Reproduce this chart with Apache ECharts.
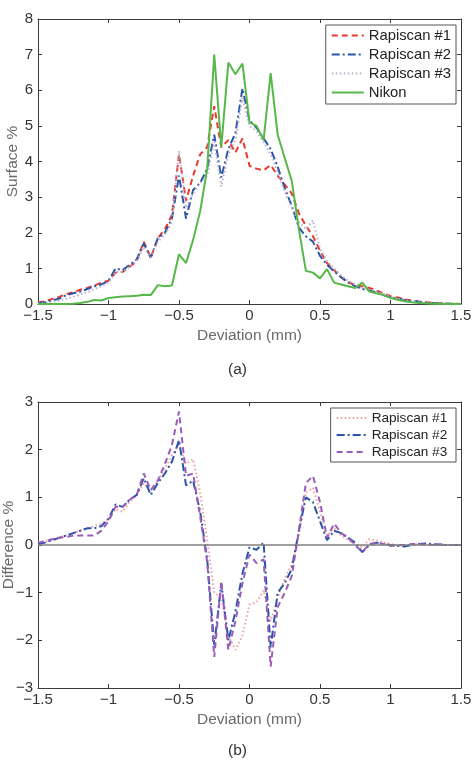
<!DOCTYPE html>
<html lang="en">
<head>
<meta charset="UTF-8">
<title>Surface deviation</title>
<script src="https://cdn.jsdelivr.net/npm/echarts@6/dist/echarts.min.js"></script>
<style>
  html, body { margin: 0; padding: 0; background: #fff; }
  #chart { width: 475px; height: 761px; }
</style>
</head>
<body>
<div id="chart"></div>
<script>
// deviation samples, mm (step 0.05)
const xs = [];
for (let i = 0; i <= 60; i++) xs.push(+(-1.5 + i * 0.05).toFixed(2));

// (a) surface %
const rap1 = [0.04,0.08,0.14,0.2,0.28,0.33,0.4,0.45,0.52,0.6,0.65,0.88,0.9,1.05,1.2,1.75,1.3,1.85,2.1,2.5,4.2,2.9,3.6,4.2,4.4,5.55,4.4,4.6,4.25,4.65,3.88,3.8,3.75,3.9,3.6,3.35,3.1,2.55,2.2,1.9,1.5,1.15,0.95,0.75,0.62,0.52,0.5,0.45,0.38,0.3,0.22,0.18,0.13,0.1,0.07,0.05,0.03,0.02,0.01,0.01,0];
const rap2 = [0.02,0.05,0.1,0.15,0.25,0.3,0.35,0.42,0.5,0.55,0.65,1.0,0.95,1.1,1.25,1.7,1.3,1.85,2.0,2.4,3.6,2.4,3.2,3.4,3.8,4.75,3.55,4.35,4.8,6.05,5.15,4.95,4.65,4.35,3.85,3.25,2.75,2.15,1.9,1.75,1.35,1.1,0.92,0.75,0.6,0.5,0.42,0.38,0.33,0.25,0.19,0.15,0.11,0.08,0.06,0.04,0.03,0.02,0.01,0.01,0];
const rap3 = [0.01,0.03,0.06,0.1,0.15,0.2,0.27,0.33,0.42,0.5,0.6,0.9,0.9,1.05,1.2,1.6,1.3,1.75,1.95,2.3,4.3,2.7,3.1,3.4,3.6,4.55,3.3,4.2,4.6,5.8,5.0,4.85,4.55,4.2,3.7,3.15,2.7,2.3,2.1,2.35,1.55,1.2,1.0,0.8,0.65,0.55,0.45,0.4,0.35,0.28,0.2,0.15,0.1,0.07,0.05,0.03,0.02,0.01,0.01,0,0];
const nikon = [0,0,0,0,0,0.01,0.03,0.06,0.11,0.1,0.17,0.19,0.21,0.22,0.23,0.26,0.25,0.53,0.5,0.52,1.4,1.15,1.8,2.6,3.8,7.0,4.4,6.78,6.45,6.75,5.1,5.0,4.6,6.48,4.75,4.1,3.45,2.1,0.93,0.88,0.72,0.98,0.6,0.55,0.5,0.45,0.6,0.35,0.3,0.25,0.17,0.12,0.08,0.05,0.03,0.02,0.01,0.01,0,0,0];

// (b) difference %
const diff1 = [0.05,0.08,0.12,0.16,0.2,0.25,0.3,0.35,0.4,0.45,0.55,0.75,0.7,0.9,1.05,1.3,1.15,1.35,1.6,1.9,2.1,1.7,1.8,1.1,0.1,-1.0,-1.1,-1.9,-2.2,-1.9,-1.25,-1.2,-0.95,-1.6,-1.1,-0.7,-0.4,0.2,1.1,1.2,0.7,0.2,0.35,0.2,0.1,0.02,-0.05,0.12,0.1,0.05,0.02,0,-0.02,0,0.02,0.01,0,0.01,0,0,0];
const diff2 = [0.02,0.05,0.1,0.15,0.2,0.25,0.3,0.35,0.35,0.4,0.55,0.85,0.8,0.95,1.05,1.4,1.05,1.3,1.5,1.75,2.2,1.25,1.35,0.7,-0.3,-2.1,-0.8,-2.0,-1.4,-0.6,-0.05,-0.1,0.05,-2.15,-1.0,-0.8,-0.5,0.3,1.0,0.9,0.5,0.1,0.3,0.25,0.15,0.05,-0.15,0,0.05,0.02,0,-0.02,-0.03,0,0.02,0.03,0.02,0.01,0,0,0];
const diff3 = [0.05,0.08,0.12,0.15,0.17,0.2,0.2,0.2,0.2,0.3,0.5,0.8,0.8,0.95,1.05,1.5,1.15,1.35,1.7,2.1,2.8,1.45,1.5,0.6,-0.35,-2.35,-0.76,-2.2,-1.6,-0.8,-0.2,-0.38,-0.3,-2.55,-1.3,-1.0,-0.65,0.3,1.3,1.45,0.9,0.15,0.45,0.25,0.15,0,-0.15,0.02,0.05,0.02,-0.02,0,0,0.02,0.02,0.01,0,0.01,0,0,0];

const pairs = ys => xs.map((x, i) => [x, ys[i]]);
const minus = v => String(v).replace('-', '\u2212');

const FONT = 'Liberation Sans, Arial, sans-serif';
const AXIS = '#3a3a3a';

function xAxes(gridIndex) {
  const base = {
    type: 'value', gridIndex, min: -1.5, max: 1.5, interval: 0.5,
    splitLine: { show: false },
    axisLine: { onZero: false, lineStyle: { color: AXIS, width: 1 } },
    axisTick: { inside: true, length: 4, lineStyle: { color: AXIS } }
  };
  return [
    Object.assign({}, base, {
      position: 'bottom',
      name: 'Deviation (mm)', nameLocation: 'middle', nameGap: 24, nameMoveOverlap: false,
      nameTextStyle: { color: '#6a6a6a', fontSize: 15.5, fontFamily: FONT },
      axisLabel: { color: '#333', fontSize: 15, fontFamily: FONT, margin: 4, formatter: minus }
    }),
    Object.assign({}, base, { position: 'top', axisLabel: { show: false } })
  ];
}

function yAxes(gridIndex, min, max, name, gap) {
  const base = {
    type: 'value', gridIndex, min, max, interval: 1,
    splitLine: { show: false },
    axisLine: { show: true, onZero: false, lineStyle: { color: AXIS, width: 1 } },
    axisTick: { show: true, inside: true, length: 4, lineStyle: { color: AXIS } }
  };
  return [
    Object.assign({}, base, {
      position: 'left',
      name, nameLocation: 'middle', nameGap: gap, nameMoveOverlap: false,
      nameTextStyle: { color: '#6a6a6a', fontSize: 15.5, fontFamily: FONT },
      axisLabel: { color: '#333', fontSize: 15, fontFamily: FONT, margin: 5, formatter: minus }
    }),
    Object.assign({}, base, { position: 'right', axisLabel: { show: false } })
  ];
}

function line(name, data, xi, yi, color, type) {
  return {
    name, type: 'line', data, xAxisIndex: xi, yAxisIndex: yi,
    showSymbol: false, symbol: 'none', animation: false,
    lineStyle: { color, width: 2, type },
    itemStyle: { color }
  };
}

const chart = echarts.init(document.getElementById('chart'));
chart.setOption({
  backgroundColor: '#fff',
  animation: false,
  title: [
    { text: '(a)', left: 'center', top: 357, textStyle: { fontSize: 15.5, fontWeight: 'normal', color: '#333', fontFamily: FONT } },
    { text: '(b)', left: 'center', top: 738, textStyle: { fontSize: 15.5, fontWeight: 'normal', color: '#333', fontFamily: FONT } }
  ],
  grid: [
    { left: 38, right: 14, top: 19, height: 285, outerBoundsMode: 'none' },
    { left: 38, right: 14, top: 402, height: 286, outerBoundsMode: 'none' }
  ],
  legend: [
    {
      data: ['Rapiscan #1', 'Rapiscan #2', 'Rapiscan #3', 'Nikon'],
      orient: 'vertical', right: 19, top: 25,
      itemWidth: 32, itemHeight: 14, itemGap: 4,
      padding: [3, 5, 4, 5],
      itemStyle: { opacity: 0 },
      backgroundColor: '#fff', borderColor: '#555', borderWidth: 1,
      textStyle: { fontSize: 14.8, color: '#222', fontFamily: FONT }
    },
    {
      data: ['Rapiscan #1 ', 'Rapiscan #2 ', 'Rapiscan #3 '],
      orient: 'vertical', right: 19, top: 408,
      itemWidth: 30, itemHeight: 13, itemGap: 3,
      padding: [3, 5, 3, 5],
      itemStyle: { opacity: 0 },
      backgroundColor: '#fff', borderColor: '#555', borderWidth: 1,
      textStyle: { fontSize: 13.6, color: '#222', fontFamily: FONT }
    }
  ],
  xAxis: [...xAxes(0), ...xAxes(1)],
  yAxis: [...yAxes(0, 0, 8, 'Surface %', 17), ...yAxes(1, -3, 3, 'Difference %', 21)],
  series: [
    line('Rapiscan #1', pairs(rap1), 0, 0, '#e8392c', [6, 4]),
    line('Rapiscan #2', pairs(rap2), 0, 0, '#2a55a8', [8, 3, 2, 3]),
    line('Rapiscan #3', pairs(rap3), 0, 0, '#bdb0cc', [1.5, 2.5]),
    line('Nikon', pairs(nikon), 0, 0, '#56b848', 'solid'),
    Object.assign(line('Rapiscan #1 ', pairs(diff1), 2, 2, '#f3a0a4', [1.5, 2.5]), {
      markLine: {
        silent: true, symbol: 'none', label: { show: false },
        lineStyle: { color: '#808080', width: 1.5, type: 'solid' },
        data: [{ yAxis: 0 }]
      }
    }),
    line('Rapiscan #2 ', pairs(diff2), 2, 2, '#2a55a8', [8, 3, 2, 3]),
    line('Rapiscan #3 ', pairs(diff3), 2, 2, '#9a5cb8', [6, 4])
  ]
});
</script>
</body>
</html>
